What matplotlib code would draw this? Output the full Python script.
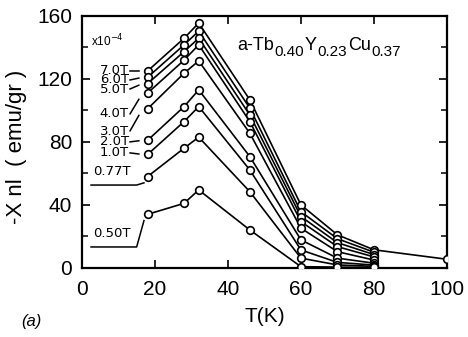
import numpy as np
import matplotlib
matplotlib.use("Agg")
import matplotlib.pyplot as plt

plt.rcParams['font.family'] = ['Liberation Sans', 'DejaVu Sans']

# temperatures (K) of measured points
temps = [18, 28, 32, 46, 60, 70, 80]

fields = ["7.0T", "6.0T", "5.0T", "4.0T", "3.0T", "2.0T", "1.0T", "0.77T", "0.50T"]

# -chi_nl in units of 1e-4 emu/gr
chi_70 = [125, 145.8, 155.4, 106.7, 40.0, 21.0, 11.5]
chi_60 = [121, 141.6, 150.3, 101.4, 35.7, 18.5, 10.0]
chi_50 = [117, 137.3, 145.8, 97.1, 32.6, 16.0, 8.5]
chi_40 = [111, 131.9, 141.6, 92.9, 29.4, 13.5, 7.0]
chi_30 = [101, 123.6, 131.4, 85.5, 25.2, 10.3, 5.0]
chi_20 = [81, 102.4, 113.0, 70.7, 17.8, 6.2, 3.0]
chi_10 = [72, 92.9, 102.4, 62.2, 11.4, 3.5, 1.8]
chi_077 = [58, 76.0, 83.0, 48.4, 6.2, 1.9, 1.0]
chi_050 = [34, 41.0, 49.5, 24.1, 0.8, 0.5, 0.3]

# extra point of the 7.0T curve at 100 K
t_high = 100
chi_70_high = 5.5

# y of each field label (same units)
label_y = [125, 119.3, 113.6, 97.8, 87.0, 80.0, 73.0, 57.1, 17.8]

series = [chi_70, chi_60, chi_50, chi_40, chi_30, chi_20, chi_10, chi_077, chi_050]

fig = plt.figure(figsize=(4.68, 3.37), dpi=100)
ax = fig.add_axes([0.175, 0.205, 0.78, 0.748])

lab_font = dict(family="DejaVu Sans", fontsize=9.5)

for name, vals, ly in zip(fields, series, label_y):
    t = list(temps)
    v = list(vals)
    if name == "7.0T":
        t.append(t_high)
        v.append(chi_70_high)
    ax.plot(t, v, "-", color="black", lw=1.2, zorder=2)
    ax.plot(t, v, "o", mfc="white", mec="black", ms=5.5, mew=1.2, zorder=3)

    if name in ("0.77T", "0.50T"):
        # underlined label with leader rising to first point
        ax.text(3.0, ly, name, ha="left", va="bottom", **lab_font)
        uy = ly - 4.5
        ax.plot([2.5, 15.0, 17.0], [uy, uy, vals[0] - 4], color="black", lw=1.1)
    else:
        ax.plot([13.2, 15.6], [ly, ly + 0.7 * (vals[0] - ly)], color="black", lw=1.1)

# stacked labels drawn as blocks (they sit very close together)
ax.text(12.8, label_y[1], "\n".join(fields[0:3]), ha="right", va="center",
        multialignment="right", linespacing=0.66, **lab_font)
ax.text(12.8, label_y[3], fields[3], ha="right", va="center", **lab_font)
ax.text(12.8, label_y[5], "\n".join(fields[4:7]), ha="right", va="center",
        multialignment="right", linespacing=0.78, **lab_font)

ax.text(2.5, 144, r"x10$^{-4}$", fontsize=8.5, ha="left", va="center")

# compound name with large subscripts, built piece by piece
pieces = [("a-Tb", 13, 0), ("0.40", 11, -4), ("Y", 13, 0), ("0.23", 11, -4),
          ("Cu", 13, 0), ("0.37", 11, -4)]
prev = None
prev_dy = 0
for s, fs, dy in pieces:
    if prev is None:
        prev = ax.text(42.5, 138.5, s, fontsize=fs, ha="left", va="baseline")
    else:
        prev = ax.annotate(s, xy=(1, 0), xycoords=prev, xytext=(0.5, dy - prev_dy),
                           textcoords="offset points", fontsize=fs,
                           ha="left", va="bottom")
    prev_dy = dy

ax.set_xlim(0, 100)
ax.set_ylim(0, 160)
ax.set_xticks([0, 20, 40, 60, 80, 100])
ax.set_yticks([0, 40, 80, 120, 160])
ax.set_yticks([20, 60, 100, 140], minor=True)
ax.tick_params(axis="both", which="major", direction="in", length=6, width=1.2,
               labelsize=15, top=True, right=True)
ax.tick_params(axis="y", which="major", pad=7)
ax.tick_params(axis="x", which="major", pad=9)
ax.tick_params(axis="y", which="minor", direction="in", length=4, width=1.1,
               right=True)
for s in ax.spines.values():
    s.set_linewidth(1.6)

fig.text(0.565, 0.06, "T(K)", fontsize=15, ha="center", va="center")
fig.text(0.036, 0.565, "-X nl  ( emu/gr )", fontsize=16, rotation=90,
         ha="center", va="center")
fig.text(0.045, 0.045, "(a)", fontsize=12, style="italic", ha="left", va="center")

fig.savefig("out.png", dpi=100)
